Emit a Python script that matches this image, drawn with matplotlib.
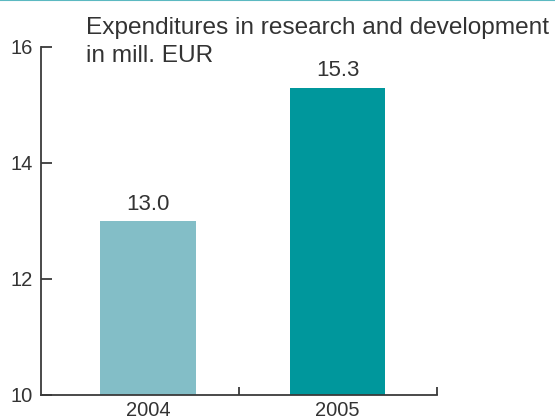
import matplotlib
matplotlib.use("Agg")
import matplotlib.pyplot as plt
from matplotlib.lines import Line2D

categories = ["2004", "2005"]
values = [13.0, 15.3]
value_labels = ["13.0", "15.3"]
bar_colors = ["#83BEC7", "#00979C"]
yticks = [10, 12, 14, 16]
title = "Expenditures in research and development\nin mill. EUR"

plt.rcParams['font.family'] = ['Liberation Sans', 'DejaVu Sans']
txt = "#333333"
spine = "#3a3a3a"

fig = plt.figure(figsize=(5.55, 4.18), dpi=100)
ax = fig.add_axes([41/555, (418-395)/418, (437-41)/555, (395-47)/418])

x = [0, 1]
ax.bar(x, values, width=0.505, color=bar_colors, zorder=2)
for xi, v, lab in zip(x, values, value_labels):
    ax.annotate(lab, (xi, v), xytext=(0, 4.5), textcoords="offset points",
                ha="center", va="bottom", fontsize=16, color=txt)

ax.set_xlim(-0.565, 1.525)
ax.set_ylim(10, 16)
ax.set_yticks(yticks)
ax.set_yticklabels([str(t) for t in yticks])
ax.set_xticks(x)
ax.set_xticklabels(categories)
ax.set_xticks([0.48, 1.525], minor=True)

for s in ["top", "right"]:
    ax.spines[s].set_visible(False)
for s in ["left", "bottom"]:
    ax.spines[s].set_color(spine)
    ax.spines[s].set_linewidth(1.3)

ax.tick_params(axis="y", direction="in", length=8, width=1.3, color=spine,
               labelsize=14.5, labelcolor=txt, pad=6)
ax.tick_params(axis="x", which="major", length=0, labelsize=14.5,
               labelcolor=txt, pad=4)
ax.tick_params(axis="x", which="minor", direction="in", length=6, width=1.3,
               color=spine)

fig.text(86/555, 1 - 62/418, title, ha="left", va="baseline", fontsize=17.6,
         color=txt, linespacing=1.33, transform=fig.transFigure)
fig.lines.append(Line2D([0, 1], [0.999, 0.999], transform=fig.transFigure,
                        color="#5BB9C1", linewidth=1.5))

fig.savefig("out.png", dpi=100)
